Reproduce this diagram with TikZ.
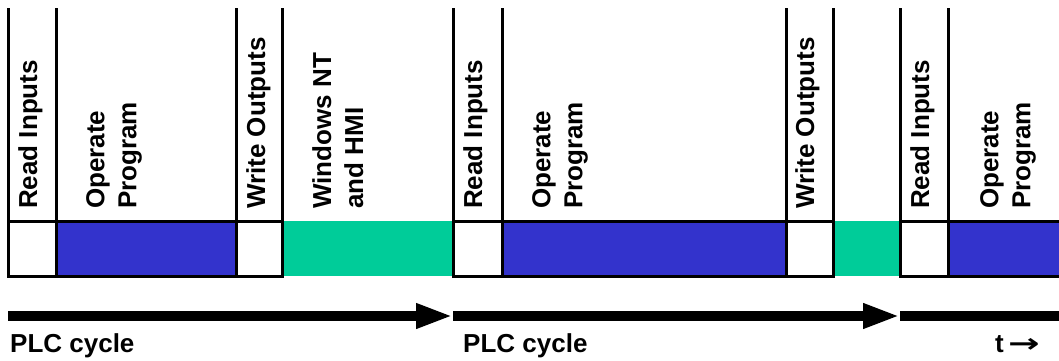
\documentclass[tikz,border=0pt]{standalone}
\usepackage{fontspec}
\setmainfont{Liberation Sans}
\newfontfamily\arrowfont{DejaVu Sans}
\usetikzlibrary{arrows.meta}
\definecolor{opblue}{RGB}{51,51,204}
\definecolor{wingreen}{RGB}{0,204,153}

\begin{document}
\begin{tikzpicture}[x=1pt, y=-1pt,
    sep/.style={line width=3pt, line cap=rect},
    lbl/.style={rotate=90, anchor=north west, inner sep=0pt, align=left, font=\fontsize{26}{32}\selectfont\bfseries},
    note/.style={anchor=base west, inner sep=0pt, font=\fontsize{26}{32}\selectfont\bfseries},
    cyc/.style={line width=10pt, -{Triangle[length=37pt, width=23pt]}}
]
\useasboundingbox (0,0) rectangle (1059,361);

% phase fills
\fill[opblue] (56,221) rectangle (236,276);
\fill[wingreen] (282,221) rectangle (453,276);
\fill[opblue] (502,221) rectangle (786,276);
\fill[wingreen] (833,221) rectangle (900,276);
\fill[opblue] (948,221) rectangle (1059,276);

% cell outlines
\draw[sep] (8,221) -- (282,221) (8,276) -- (282,276);
\draw[sep] (453,221) -- (833,221) (453,276) -- (833,276);
\draw[sep] (900,221) -- (1059,221) (900,276) -- (1059,276);

% phase boundaries
\draw[sep] (8,10) -- (8,276) (56,10) -- (56,276) (236,10) -- (236,276) (282,10) -- (282,276);
\draw[sep] (453,10) -- (453,276) (502,10) -- (502,276) (786,10) -- (786,276) (833,10) -- (833,276);
\draw[sep] (900,10) -- (900,276) (948,10) -- (948,276);

% phase labels
\node[lbl] (ri1) at (18,209) {Read Inputs};
\node[lbl] (op1) at (86,209) {Operate\\Program};
\node[lbl] (wo1) at (246,209) {Write Outputs};
\node[lbl] (nt1) at (312,209) {Windows NT\\and HMI};
\node[lbl] (ri2) at (463,209) {Read Inputs};
\node[lbl] (op2) at (532,209) {Operate\\Program};
\node[lbl] (wo2) at (795,209) {Write Outputs};
\node[lbl] (ri3) at (910,209) {Read Inputs};
\node[lbl] (op3) at (980,209) {Operate\\Program};

% cycle arrows
\coordinate (c0) at (8,316);
\coordinate (c1) at (453,316);
\coordinate (c2) at (900,316);
\coordinate (tend) at (1059,316);
\draw[cyc] (c0) -- (c1);
\draw[cyc] (c1) -- (c2);
\draw[line width=10pt] (c2) -- (tend);

\node[note] (plc1) at (10,352) {PLC cycle};
\node[note] (plc2) at (463,352) {PLC cycle};
\node[note] (time) at (995,352) {t\,{\arrowfont\scalebox{1.45}[1]{→}}};
\end{tikzpicture}
\end{document}
